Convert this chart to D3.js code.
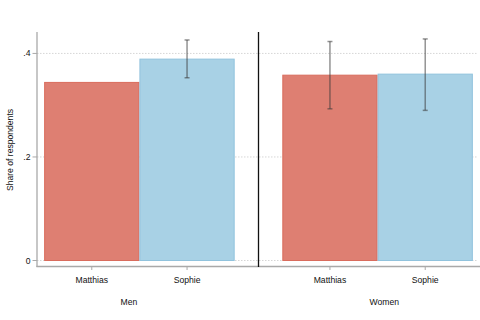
<!DOCTYPE html>
<html>
<head>
<meta charset="utf-8">
<script src="https://cdn.jsdelivr.net/npm/d3@7"></script>
<style>
  body { margin: 0; background: #fff; }
  svg { display: block; font-family: "Liberation Sans", Arial, sans-serif; }
</style>
</head>
<body>
<svg id="chart" width="480" height="320"></svg>
<script>
// data
const groups = ["Men", "Women"];
const names = ["Matthias", "Sophie"];
const shares = [0.344, 0.389, 0.358, 0.360];
const ciLow = [null, 0.353, 0.293, 0.290];
const ciHigh = [null, 0.426, 0.423, 0.428];
const yTicks = [0, 0.2, 0.4];
const yTickLabels = ["0", ".2", ".4"];

const svg = d3.select("#chart");
const colors = ["#de7f72", "#a8d1e5"];
const strokes = ["#d96c5d", "#91c3dd"];

// slot positions: Men 0,1 / Women 2.5,3.5
const slot = (g, i) => g * 2.5 + i;
const x = d3.scaleLinear().domain([-0.575, 4.075]).range([37, 480]);
const y = d3.scaleLinear().domain([0, 0.441]).range([260.5, 32.2]);
const bw = x(1) - x(0);

const rows = [];
groups.forEach((g, gi) => names.forEach((n, ni) => {
  const k = gi * 2 + ni;
  rows.push({g: gi, i: ni, name: n, v: shares[k], lo: ciLow[k], hi: ciHigh[k]});
}));

// gridlines
svg.append("g").selectAll("line").data(yTicks).enter().append("line")
  .attr("x1", 37).attr("x2", 478)
  .attr("y1", d => y(d)).attr("y2", d => y(d))
  .attr("stroke", "#d6d6d6").attr("stroke-width", 1)
  .attr("stroke-dasharray", "1.5,1.5");

// bars
svg.append("g").selectAll("rect").data(rows).enter().append("rect")
  .attr("x", d => x(slot(d.g, d.i)) - bw / 2 + 0.5)
  .attr("width", bw - 1)
  .attr("y", d => y(d.v))
  .attr("height", d => y(0) - y(d.v))
  .attr("fill", d => colors[d.i])
  .attr("stroke", d => strokes[d.i])
  .attr("stroke-width", 1);

// error bars
const eb = svg.append("g").attr("stroke", "#3a3a3a").attr("stroke-opacity", 0.55).attr("stroke-width", 1.5);
rows.filter(d => d.lo != null).forEach(d => {
  const cx = x(slot(d.g, d.i));
  eb.append("line").attr("x1", cx).attr("x2", cx).attr("y1", y(d.hi)).attr("y2", y(d.lo));
  eb.append("line").attr("x1", cx - 2.5).attr("x2", cx + 2.5).attr("y1", y(d.hi)).attr("y2", y(d.hi));
  eb.append("line").attr("x1", cx - 2.5).attr("x2", cx + 2.5).attr("y1", y(d.lo)).attr("y2", y(d.lo));
});

// axes
const axisCol = "#a9a9a9";
svg.append("line").attr("x1", 37).attr("x2", 37).attr("y1", 32).attr("y2", 267)
  .attr("stroke", axisCol).attr("stroke-width", 1.3);
svg.append("line").attr("x1", 36.4).attr("x2", 480).attr("y1", 266.5).attr("y2", 266.5)
  .attr("stroke", axisCol).attr("stroke-width", 1.3);

const yt = svg.append("g").selectAll("g").data(yTicks).enter().append("g");
yt.append("line").attr("x1", 32.5).attr("x2", 37).attr("y1", d => y(d)).attr("y2", d => y(d))
  .attr("stroke", axisCol).attr("stroke-width", 1);
yt.append("text").attr("x", 30.5).attr("y", d => y(d)).attr("dy", "0.35em")
  .attr("text-anchor", "end").attr("font-size", 8.6).attr("fill", "#111")
  .text((d, i) => yTickLabels[i]);

svg.append("text").attr("transform", "translate(13,150) rotate(-90)")
  .attr("text-anchor", "middle").attr("font-size", 8.6).attr("fill", "#111")
  .text("Share of respondents");

const xt = svg.append("g").selectAll("g").data(rows).enter().append("g");
xt.append("line").attr("x1", d => x(slot(d.g, d.i))).attr("x2", d => x(slot(d.g, d.i)))
  .attr("y1", 267).attr("y2", 270).attr("stroke", axisCol).attr("stroke-width", 1);
xt.append("text").attr("x", d => x(slot(d.g, d.i))).attr("y", 279.5).attr("dy", "0.35em")
  .attr("text-anchor", "middle").attr("font-size", 8.6).attr("fill", "#111")
  .text(d => d.name);

// group labels
const groupPos = [0.39, 3.07];
svg.append("g").selectAll("text").data(groups).enter().append("text")
  .attr("x", (d, i) => x(groupPos[i])).attr("y", 301.5).attr("dy", "0.35em")
  .attr("text-anchor", "middle").attr("font-size", 8.6).attr("fill", "#111")
  .text(d => d);

// panel separator
svg.append("line").attr("x1", x(1.75)).attr("x2", x(1.75)).attr("y1", 32).attr("y2", 267)
  .attr("stroke", "#111").attr("stroke-width", 1.3);
</script>
</body>
</html>
